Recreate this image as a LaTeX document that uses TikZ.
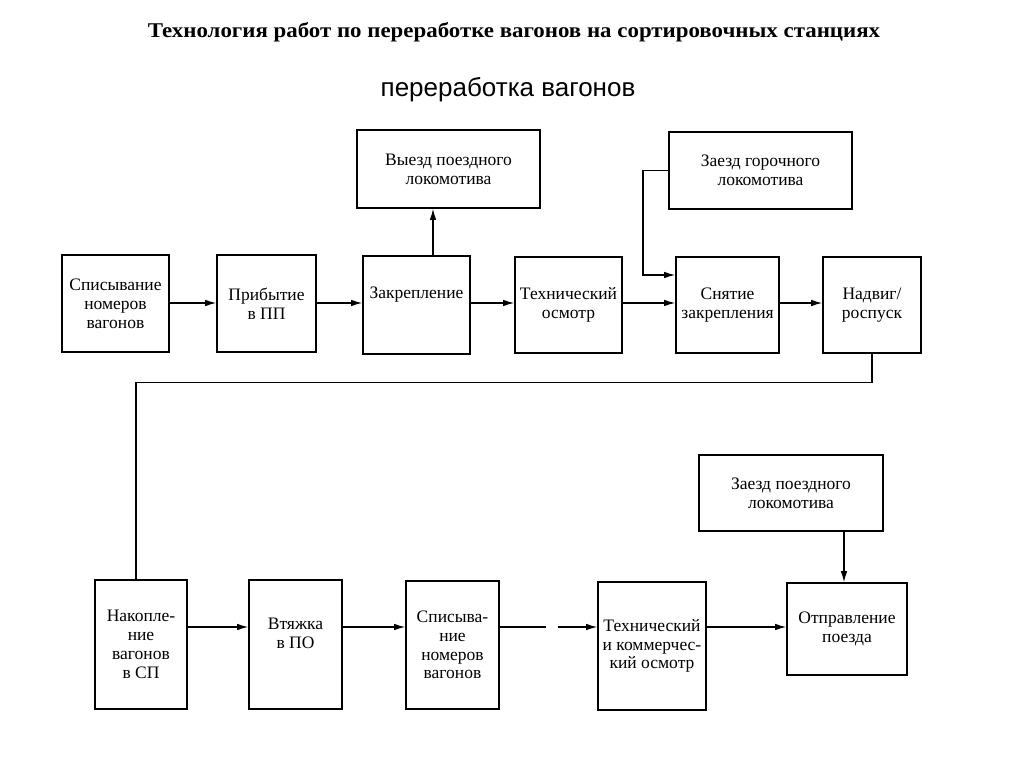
\documentclass[tikz,border=0pt]{standalone}
\usepackage{fontspec}
\setmainfont{Liberation Serif}
\setsansfont{Liberation Sans}
\usetikzlibrary{arrows.meta}
\begin{document}
\begin{tikzpicture}[x=1pt, y=-1pt,
        box/.style={draw, line width=1.6pt, align=center, inner sep=1pt,
            font=\fontsize{17.5}{18.8}\selectfont},
        link/.style={line width=1.1pt},
        arr/.style={link, -{Latex[length=11pt, width=6.5pt]}}]
            \useasboundingbox (0, 0) rectangle (1024, 767);
            \node[anchor=base, xscale=1.09] (title) at (514, 37.5) {\fontsize{21}{24}\selectfont\bfseries Технология работ по переработке вагонов на сортировочных станциях};
            \node[anchor=base] (sub) at (508, 97) {\fontsize{26}{30}\selectfont\sffamily переработка вагонов};
            \coordinate (rowa) at (0, 303);
            \coordinate (rowb) at (0, 627);
            % upper row
            \node[box, minimum width=107pt, minimum height=97pt] (spis) at (115.5, 303.5) {Списывание\\номеров\\вагонов};
            \node[box, minimum width=99pt, minimum height=97pt] (prib) at (266.5, 303.5) {Прибытие\\в ПП};
            \node[box, minimum width=107pt, minimum height=98pt] (zakr) at (416.5, 305) {Закрепление\\[6pt]};
            \node[box, minimum width=183pt, minimum height=78pt] (vyezd) at (448.5, 169) {Выезд поездного\\локомотива};
            \node[box, minimum width=107pt, minimum height=96pt] (tech) at (568.5, 305) {Технический\\осмотр};
            \node[box, minimum width=103pt, minimum height=96pt] (snyat) at (727.5, 305) {Снятие\\закрепления};
            \node[box, minimum width=98pt, minimum height=96pt] (nadv) at (872, 305) {Надвиг/\\роспуск};
            \node[box, minimum width=183pt, minimum height=77pt] (gorka) at (760.5, 170.5) {Заезд горочного\\локомотива};
            % lower row
            \node[box, minimum width=92pt, minimum height=129pt] (nakop) at (141, 644.5) {Накопле-\\ние\\вагонов\\в СП};
            \node[box, minimum width=93pt, minimum height=129pt] (vtyag) at (295.5, 644.5) {Втяжка\\в ПО\\[4pt]};
            \node[box, minimum width=93pt, minimum height=128pt] (spis2) at (452.5, 645) {Списыва-\\ние\\номеров\\вагонов};
            \node[box, minimum width=108pt, minimum height=128pt] (komm) at (652, 646) {Технический\\и коммерчес-\\кий осмотр};
            \node[box, minimum width=120pt, minimum height=92pt] (otpr) at (847, 629) {Отправление\\поезда};
            \node[box, minimum width=184pt, minimum height=76pt] (poezd) at (791, 493) {Заезд поездного\\локомотива};
            % connectors
            \draw[arr] (spis.east |- rowa) -- (prib.west |- rowa);
            \draw[arr] (prib.east |- rowa) -- (zakr.west |- rowa);
            \draw[arr] (zakr.north -| 433, 0) -- (vyezd.south -| 433, 0);
            \draw[arr] (zakr.east |- rowa) -- (tech.west |- rowa);
            \draw[arr] (tech.east |- rowa) -- (snyat.west |- rowa);
            \draw[arr] (snyat.east |- rowa) -- (nadv.west |- rowa);
            \draw[arr] (gorka.west) -| (643, 275) -- (snyat.west |- 0, 275);
            \draw[link] (nadv.south) -- ++(0, 29) -| (nakop.north -| 136, 0);
            \draw[arr] (nakop.east |- rowb) -- (vtyag.west |- rowb);
            \draw[arr] (vtyag.east |- rowb) -- (spis2.west |- rowb);
            \draw[arr, dash pattern=on 46pt off 12pt on 100pt] (spis2.east |- rowb) -- (komm.west |- rowb);
            \draw[arr] (komm.east |- rowb) -- (otpr.west |- rowb);
            \draw[arr] (poezd.south -| 844, 0) -- (otpr.north -| 844, 0);
        \end{tikzpicture}
\end{document}
